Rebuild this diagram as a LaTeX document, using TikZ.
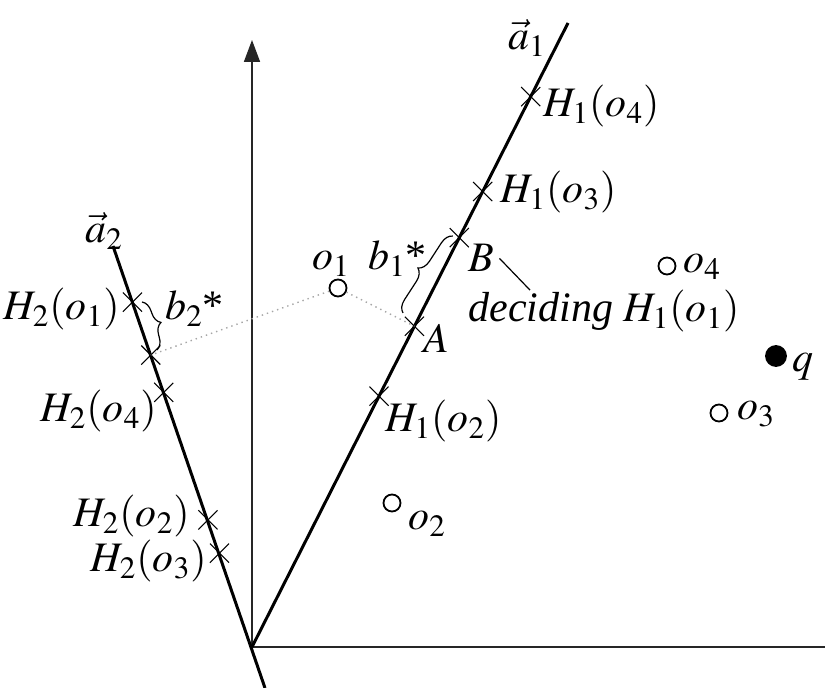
\documentclass[tikz,border=0pt]{standalone}
\usepackage{mathptmx}
\usepackage{fontspec}
\setmainfont{Liberation Serif}
\usetikzlibrary{positioning,arrows.meta,calc,shapes.misc,decorations.pathreplacing}

\begin{document}
\begin{tikzpicture}[x=0.5pt, y=-0.5pt,
		font=\fontsize{21}{25}\selectfont,
		axis/.style={line width=0.8pt, black!85},
		proj/.style={line width=1.5pt},
		xmark/.style={cross out, draw, line width=0.55pt, minimum size=9pt, inner sep=0pt},
		pt/.style={circle, draw, line width=0.9pt, minimum size=8.5pt, inner sep=0pt},
		lbl/.style={inner sep=0pt, anchor=base west},
		lblr/.style={inner sep=0pt, anchor=base east},
		guide/.style={dotted, gray!70, line width=0.7pt},
		bracket/.style={decorate, decoration={brace, amplitude=6pt}, line width=0.6pt}]
		\useasboundingbox (0,0) rectangle (825,688);
		\coordinate (O) at (252,647);
		\coordinate (top) at (252,40);
		\coordinate (right) at (825,647);
		\coordinate (a1end) at (568,23);
		\coordinate (a2end) at (113,246);
		\coordinate (a2low) at (265,688);
		% axes and the two projection lines
		\draw[axis, -{Triangle[length=11pt,width=8pt]}] (O) -- (top);
		\draw[axis] (O) -- (right);
		\draw[proj] (O) -- (a1end);
		\draw[proj] (a2low) -- (a2end);
		\node[lbl] (a1lbl) at (508,50) {$\vec{a}_1$};
		\node[lbl] (a2lbl) at (85,243) {$\vec{a}_2$};
		% ticks on a1 and a2
		\foreach \t/\n in {0.882/h1o4, 0.730/h1o3, 0.656/B, 0.514/A, 0.402/h1o2}
			\node[xmark] (\n) at ($(O)!\t!(a1end)$) {};
		\foreach \t/\n in {0.860/h2o1, 0.728/h2p, 0.635/h2o4, 0.317/h2o2, 0.234/h2o3}
			\node[xmark] (\n) at ($(O)!\t!(a2end)$) {};
		% objects and query
		\foreach \n/\x/\y in {o1/338/288, o2/392/503, o3/719/413, o4/667/266}
			\node[pt] (\n) at (\x,\y) {};
		\node[pt, fill, minimum size=10pt] (q) at (776,356) {};
		\foreach \x/\y/\l in {312/270/{$o_1$}, 408/530/{$o_2$}, 737/420/{$o_3$}, 683/273/{$o_4$}, 792/372/{$q$}}
			\node[lbl] at (\x,\y) {\l};
		% labels of the ticks
		\foreach \x/\y/\l in {543/117/{$H_1(o_4)$}, 500/203/{$H_1(o_3)$}, 385/432/{$H_1(o_2)$}, 423/353/{$A$}}
			\node[lbl] at (\x,\y) {\l};
		\node[lbl] (Blbl) at (468,272) {$B$};
		\node[lbl] (dec) at (468,322) {\textit{deciding} $H_1(o_1)$};
		\draw[line width=0.6pt] ([xshift=2.5pt]Blbl.east) -- ([xshift=31pt]dec.north west);
		\foreach \x/\y/\l in {120/320/{$H_2(o_1)$}, 157/422/{$H_2(o_4)$}, 190/527/{$H_2(o_2)$}, 207/572/{$H_2(o_3)$}}
			\node[lblr] at (\x,\y) {\l};
		% projections of o1 and the gaps
		\draw[guide] (o1) -- (A.center);
		\draw[guide] (o1) -- (h2p.center);
		\coordinate (b1lo) at (403,313);
		\coordinate (b1hi) at (453,236);
		\coordinate (b2hi) at (142,302);
		\coordinate (b2lo) at (157,350);
		\draw[bracket] (b1lo) -- (b1hi);
		\draw[bracket] (b2hi) -- (b2lo);
		\node[lbl] at (368,270) {$b_1$*};
		\node[lbl] at (165,320) {$b_2$*};
	\end{tikzpicture}
\end{document}
